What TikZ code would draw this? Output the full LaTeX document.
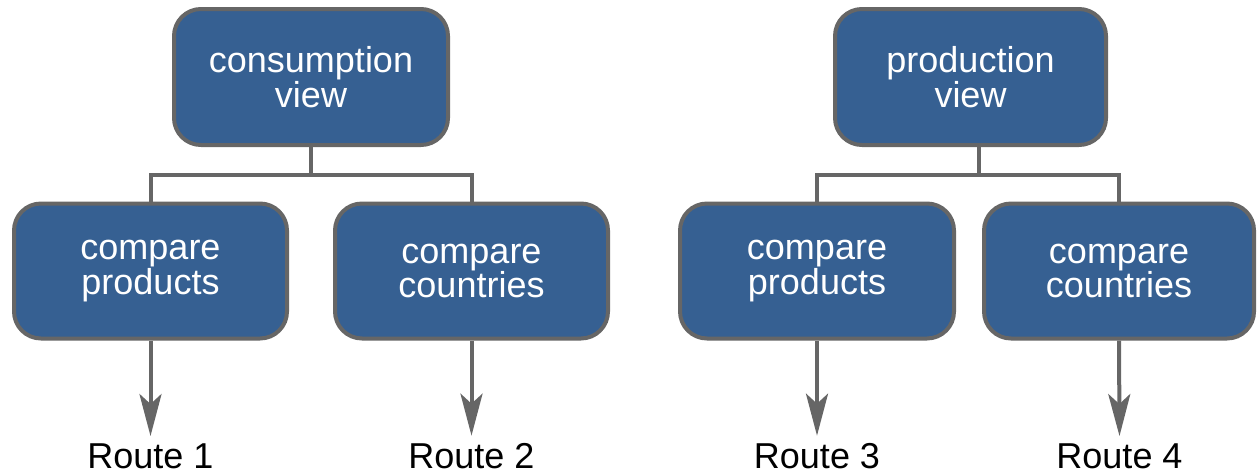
\documentclass[tikz,border=0pt]{standalone}
\usepackage{fontspec}
\setmainfont{Liberation Sans}
\usetikzlibrary{arrows.meta}
\definecolor{boxblue}{RGB}{54,96,146}
\definecolor{edgegrey}{RGB}{102,102,102}
\tikzset{
  viewbox/.style={draw=edgegrey, line width=4pt, fill=boxblue, rounded corners=27pt,
    minimum width=273pt, minimum height=135pt, inner sep=0pt, align=center,
    text=white, font=\fontsize{36}{30}\selectfont},
  routelabel/.style={anchor=base, inner sep=7pt, font=\fontsize{36}{43}\selectfont, text=black},
  treeline/.style={draw=edgegrey, line width=4pt},
  routearrow/.style={draw=edgegrey, line width=4pt,
    -{Stealth[length=42pt, width=22pt, inset=10pt]}}
}
\begin{document}
\begin{tikzpicture}[x=1pt, y=-1pt]
\useasboundingbox (0,0) rectangle (1257,475);
% top boxes
\node[viewbox, minimum width=274pt, minimum height=136pt] (A) at (311,77) {consumption\\view};
\node[viewbox, minimum width=271pt, minimum height=136pt] (B) at (970.5,77) {production\\view};
% children
\node[viewbox] (c1) at (150.5,271) {compare\\products};
\node[viewbox] (c2) at (471.5,271) {compare\\countries};
\node[viewbox, minimum width=274pt] (c3) at (817,271) {compare\\products};
\node[viewbox, minimum width=270pt] (c4) at (1119,271) {compare\\countries};
% route labels
\node[routelabel] (r1) at (150.5,468) {Route 1};
\node[routelabel] (r2) at (471.5,468) {Route 2};
\node[routelabel] (r3) at (817,468) {Route 3};
\node[routelabel] (r4) at (1119.5,468) {Route 4};
% tree connectors
\coordinate (busA) at (311,175);
\coordinate (busB) at (979,175);
\draw[treeline] (A.south) -- (busA);
\draw[treeline] (c1.north) |- (busA) -| (c2.north);
\draw[treeline] (busB |- B.south) -- (busB);
\draw[treeline] (c3.north) |- (busB) -| (c4.north);
% arrows
\draw[routearrow] (c1.south) -- (r1.north);
\draw[routearrow] (c2.south) -- (r2.north);
\draw[routearrow] (c3.south) -- (r3.north);
\draw[routearrow] (c4.south) -- (r4.north);
\end{tikzpicture}
\end{document}
